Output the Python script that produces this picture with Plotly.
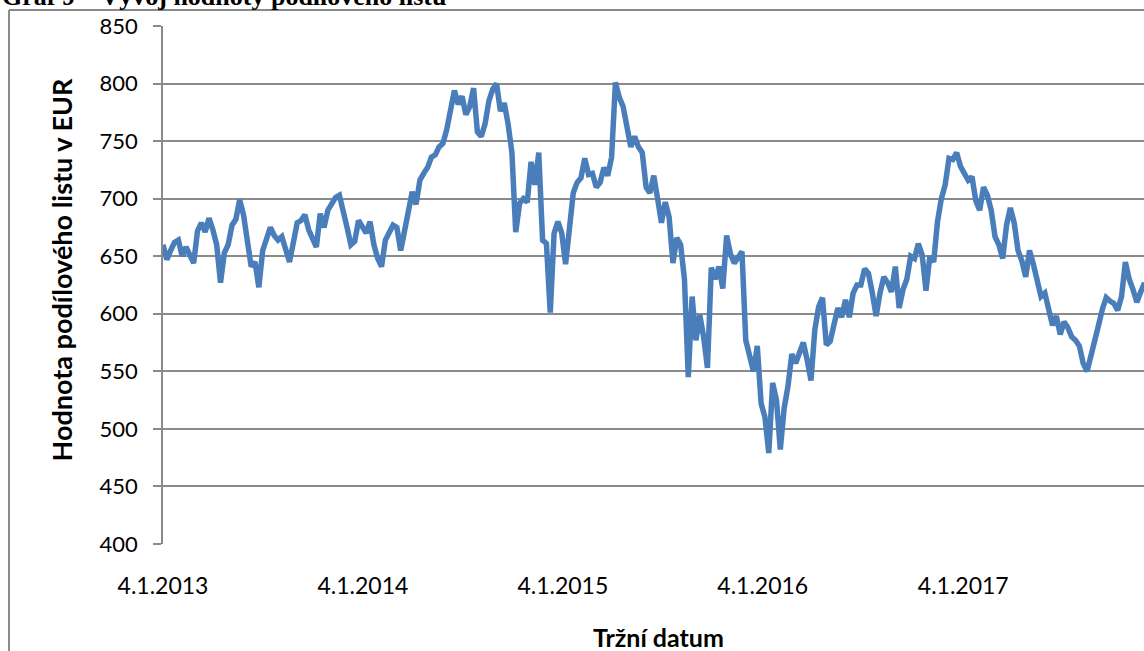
import pandas as pd
import plotly.graph_objects as go

# Týdenní hodnoty podílového listu (EUR), od 4.1.2013
hodnoty = [
    660, 647, 655, 662, 664, 650, 658, 650, 644, 672,
    679, 671, 683, 673, 660, 627, 653, 660, 677, 682,
    699, 686, 664, 641, 645, 623, 655, 664, 675, 668,
    664, 667, 657, 645, 662, 679, 681, 686, 673, 666,
    658, 687, 675, 690, 696, 701, 703, 686, 675, 660,
    663, 681, 675, 670, 680, 660, 648, 641, 664, 670,
    677, 675, 655, 672, 692, 706, 695, 716, 722, 727,
    736, 738, 745, 748, 760, 779, 794, 782, 789, 773,
    780, 796, 758, 754, 765, 785, 795, 800, 776, 783,
    765, 740, 671, 696, 700, 697, 732, 712, 740, 664,
    661, 601, 670, 680, 670, 643, 673, 705, 714, 718,
    735, 721, 722, 710, 714, 727, 720, 736, 801, 788,
    780, 764, 745, 754, 745, 740, 710, 705, 720, 700,
    679, 697, 684, 644, 666, 660, 630, 545, 615, 577,
    599, 580, 553, 640, 630, 641, 622, 668, 652, 644,
    650, 654, 577, 565, 550, 572, 522, 510, 479, 540,
    525, 482, 518, 537, 565, 557, 567, 575, 560, 542,
    586, 606, 614, 573, 576, 589, 605, 597, 612, 597,
    618, 625, 625, 639, 635, 618, 598, 618, 632, 627,
    619, 641, 605, 621, 630, 650, 648, 661, 651, 620,
    650, 645, 680, 700, 712, 735, 734, 740, 728, 722,
    716, 719, 698, 690, 710, 703, 690, 667, 660, 648,
    677, 692, 679, 655, 646, 632, 655, 643, 629, 615,
    618, 605, 590, 598, 582, 593, 588, 580, 577, 572,
    557, 550, 562, 577, 590, 604, 614, 611, 609, 603,
    615, 645, 630, 621, 610, 619, 627,
]
datum = pd.date_range("2013-01-04", periods=len(hodnoty), freq="7D")

popisky_dat = ["2013-01-04", "2014-01-04", "2015-01-04", "2016-01-04", "2017-01-04"]
popisky_text = ["4.1.2013", "4.1.2014", "4.1.2015", "4.1.2016", "4.1.2017"]

seda = "#8a8a8a"
pismo = "Lato"

fig = go.Figure()
fig.add_trace(go.Scatter(
    x=datum, y=hodnoty, mode="lines",
    line=dict(color="#4a7ebb", width=5.5),
    hoverinfo="skip", showlegend=False,
))

# rámeček grafu (levý a horní okraj)
fig.add_shape(type="line", xref="paper", yref="paper",
              x0=-0.157, x1=-0.157, y0=1.031, y1=-0.25,
              line=dict(color=seda, width=2))
fig.add_shape(type="line", xref="paper", yref="paper",
              x0=-0.157, x1=1.01, y0=1.031, y1=1.031,
              line=dict(color=seda, width=2))

# nadpis (v originále oříznutý nahoře)
fig.add_annotation(text="<b>Graf 9 – Vývoj hodnoty podílového listu</b>",
                   xref="paper", yref="paper", x=-0.166, y=1, xanchor="left",
                   yanchor="bottom", yshift=13, showarrow=False,
                   font=dict(family="Liberation Serif", size=26, color="black"))

fig.add_annotation(text="<b>Hodnota podílového listu v EUR</b>",
                   xref="paper", yref="paper", x=-0.103, y=0.53, textangle=-90,
                   xanchor="center", yanchor="middle",
                   showarrow=False, font=dict(family=pismo, size=27, color="black"))
fig.add_annotation(text="<b>Tržní datum</b>",
                   xref="paper", yref="paper", x=0.505, y=-0.18,
                   xanchor="center", yanchor="middle",
                   showarrow=False, font=dict(family=pismo, size=25, color="black"))

fig.update_layout(
    width=1144, height=651,
    margin=dict(l=163, r=0, t=26, b=107),
    paper_bgcolor="white", plot_bgcolor="white",
    font=dict(family=pismo, size=22, color="black"),
)
fig.update_xaxes(
    type="date", range=["2013-01-04", "2017-11-30"],
    tickvals=popisky_dat, ticktext=popisky_text,
    showgrid=False, zeroline=False, showline=False,
    ticks="", ticklabelstandoff=26,
    tickfont=dict(size=23),
)
fig.update_yaxes(
    range=[400, 850], dtick=50,
    showgrid=True, gridcolor=seda, gridwidth=1.5,
    showline=True, linecolor=seda, linewidth=1.5,
    ticks="outside", ticklen=8, tickcolor=seda, tickwidth=1.5,
    zeroline=False, ticklabelstandoff=11,
)

# bez okraje stránky, aby figura začínala v levém horním rohu
fig.write_html("out.html", config={"displayModeBar": False},
               post_script="document.body.style.margin='0';")
